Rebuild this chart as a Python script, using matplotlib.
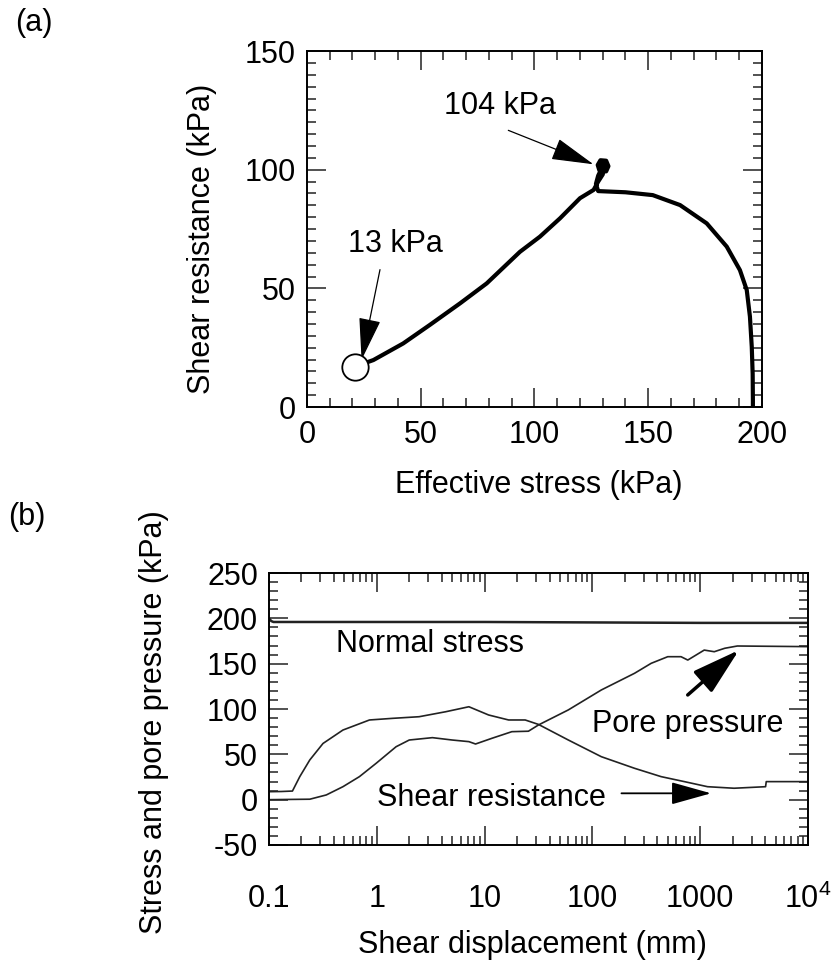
import numpy as np
import matplotlib
matplotlib.use("Agg")
import matplotlib.pyplot as plt
from matplotlib.ticker import MultipleLocator, NullFormatter

plt.rcParams['font.family'] = ['Liberation Sans', 'DejaVu Sans']
plt.rcParams['mathtext.default'] = 'regular'
plt.rcParams['axes.unicode_minus'] = False

# (a) stress path: effective stress vs shear resistance (kPa)
eff_stress = [196, 196, 195.9, 195.5, 194.7, 193.3, 190.3, 184.5, 175.7, 164,
              152, 140, 128, 127, 128, 129, 131.5, 132.5, 131.5, 129, 127.8,
              128.5, 130.5, 131.5, 130.5, 129, 128.6, 129.5, 130.8, 130, 128,
              126, 120, 111.2, 102.4, 93.6, 79, 67.3, 54, 42.3, 29.2, 21]
shear_res = [0, 3, 14, 25.4, 38.1, 49.3, 57.7, 67.6, 77.4, 85.1,
             89.3, 90.5, 91, 94, 97.5, 99.5, 99.3, 101.5, 103.8, 104, 102,
             99.8, 99.6, 101.5, 103, 102.8, 101, 100.6, 101.8, 98, 95,
             91.5, 88, 79.5, 71.8, 65.4, 52.1, 43.7, 34.6, 26.8, 19.8, 17]
steady_x, steady_y = 21, 17

# (b) time histories vs shear displacement (mm)
ns_disp = [0.1, 0.105, 0.11, 1, 10, 100, 1000, 10000]
ns_val = [200, 197, 196, 196, 196, 195.5, 195, 195]

sr_disp = [0.1, 0.13, 0.165, 0.193, 0.239, 0.317, 0.485, 0.855, 1.4, 2.47, 4.36,
           7.15, 10.9, 16.7, 23.8, 31.6, 59.8, 121, 246, 434, 713, 1170, 2060,
           4040, 4100, 10000]
sr_val = [8.8, 9, 9.5, 25.4, 43.8, 62, 76.8, 87.9, 89.7, 91.5, 97,
          102.5, 93.4, 87.9, 87.9, 83, 65.8, 47.4, 34.6, 25.4, 19.9, 14.3, 12.6,
          14.3, 19.9, 19.9]

pp_disp = [0.1, 0.239, 0.34, 0.485, 0.69, 0.986, 1.51, 2.0, 3.28, 5.0, 7.15, 8.24,
           11.7, 17.9, 25.5, 31.6, 59.8, 121, 246, 351, 500, 664, 767, 1090,
           1350, 1690, 2210, 10000]
pp_val = [0, 0.5, 5.2, 14.3, 25.4, 40.1, 58.4, 65.8, 68.4, 65.8, 64, 61.4,
          67.7, 75, 75.5, 82.4, 99, 121, 139.4, 150.4, 157.7, 157.7, 154, 165,
          163.2, 167, 169.5, 168.8]

xtick_vals = [0.1, 1, 10, 100, 1000, 10000]
xtick_labels = ['0.1', '1', '10', '100', '1000', r'$10^4$']

fs = 22
fig = plt.figure(figsize=(8.38, 9.6), dpi=100)

# ---- panel (a)
ax1 = fig.add_axes([0.3663, 0.576, 0.543, 0.3708])
ax1.plot(eff_stress, shear_res, color='black', lw=3, solid_joinstyle='round')
ax1.plot(steady_x, steady_y, 'o', ms=19, mfc='white', mec='black', mew=1.3, zorder=5)
ax1.set_xlim(0, 200)
ax1.set_ylim(0, 150)
ax1.xaxis.set_major_locator(MultipleLocator(50))
ax1.xaxis.set_minor_locator(MultipleLocator(10))
ax1.yaxis.set_major_locator(MultipleLocator(50))
ax1.yaxis.set_minor_locator(MultipleLocator(5))
ax1.set_xlabel('Effective stress (kPa)', fontsize=fs)
ax1.set_ylabel('Shear resistance (kPa)', fontsize=fs)
ax1.xaxis.set_label_coords(0.509, -0.177)
ax1.yaxis.set_label_coords(-0.198, 0.472)
ax1.tick_params(axis='x', which='major', pad=9)
ax1.tick_params(axis='y', which='major', pad=8)

ax1.text(84.8, 126.7, '104 kPa', fontsize=fs, ha='center', va='center')
ax1.annotate('', xy=(125.9, 102.3), xytext=(88.5, 116.6),
             arrowprops=dict(arrowstyle='-|>,head_length=2.7,head_width=0.7',
                             color='black', lw=0.9, shrinkA=0, shrinkB=0,
                             mutation_scale=10))
ax1.text(39.1, 68.6, '13 kPa', fontsize=fs, ha='center', va='center')
ax1.annotate('', xy=(24, 19.9), xytext=(32.1, 57.9),
             arrowprops=dict(arrowstyle='-|>,head_length=2.7,head_width=0.7',
                             color='black', lw=0.9, shrinkA=0, shrinkB=0,
                             mutation_scale=10))

# ---- panel (b)
ax2 = fig.add_axes([0.321, 0.1198, 0.6432, 0.2833])
ax2.plot(ns_disp, ns_val, color='#222222', lw=1.8)
ax2.plot(sr_disp, sr_val, color='#222222', lw=1.2)
ax2.plot(pp_disp, pp_val, color='#222222', lw=1.2)
ax2.set_xscale('log')
ax2.set_xlim(0.1, 1e4)
ax2.set_ylim(-50, 250)
ax2.set_xticks(xtick_vals)
ax2.set_xticklabels(xtick_labels)
ax2.xaxis.set_minor_formatter(NullFormatter())
ax2.yaxis.set_major_locator(MultipleLocator(50))
ax2.yaxis.set_minor_locator(MultipleLocator(10))
ax2.set_xlabel('Shear displacement (mm)', fontsize=fs)
ax2.set_ylabel('Stress and pore pressure (kPa)', fontsize=fs)
ax2.xaxis.set_label_coords(0.488, -0.3125)
ax2.yaxis.set_label_coords(-0.1855, 0.452)
ax2.tick_params(axis='x', which='major', pad=28)
ax2.tick_params(axis='y', which='major', pad=8)

ax2.text(3.12, 171.7, 'Normal stress', fontsize=fs, ha='center', va='center')
ax2.text(766, 83.4, 'Pore pressure', fontsize=fs, ha='center', va='center')
ax2.text(11.5, 1.5, 'Shear resistance', fontsize=fs, ha='center', va='center')
ax2.annotate('', xy=(2290, 165), xytext=(766, 115.5),
             arrowprops=dict(arrowstyle='-|>,head_length=2.95,head_width=0.86',
                             color='black', lw=2.5, shrinkA=0, shrinkB=0,
                             mutation_scale=10))
ax2.annotate('', xy=(1260, 7.0), xytext=(186, 7.0),
             arrowprops=dict(arrowstyle='-|>,head_length=2.5,head_width=0.7',
                             color='black', lw=1.3, shrinkA=0, shrinkB=0,
                             mutation_scale=10))

for ax in (ax1, ax2):
    for sp in ax.spines.values():
        sp.set_linewidth(1.4)
    ax.tick_params(which='both', direction='in', top=True, right=True,
                   width=1.1, labelsize=fs, color='#222222')
    ax.tick_params(which='major', length=14)
    ax.tick_params(which='minor', length=6.5)

fig.text(34 / 838, 1 - 23 / 960, '(a)', fontsize=fs, ha='center', va='center')
fig.text(27 / 838, 1 - 517 / 960, '(b)', fontsize=fs, ha='center', va='center')

fig.savefig('out.png', dpi=100, facecolor='white')
